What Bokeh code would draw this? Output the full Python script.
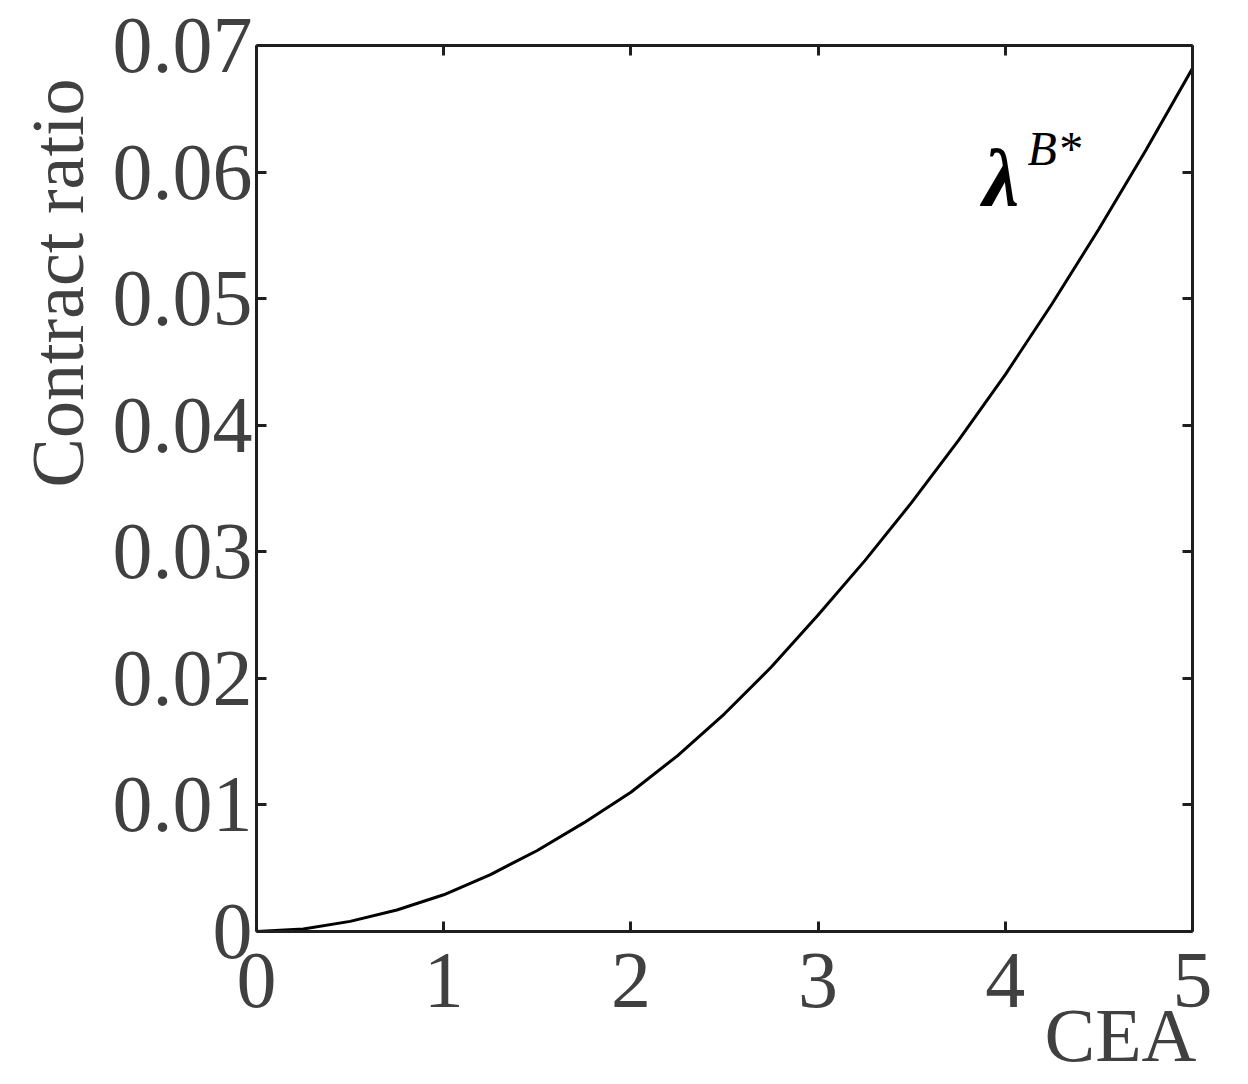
from bokeh.plotting import figure
from bokeh.models import Range1d, FixedTicker, LinearAxis, Label, Title
from bokeh.embed import file_html
from bokeh.resources import INLINE

# data
cea = [0.0, 0.25, 0.5, 0.75, 1.0, 1.25, 1.5, 1.75, 2.0, 2.25, 2.5, 2.75,
       3.0, 3.25, 3.5, 3.75, 4.0, 4.25, 4.5, 4.75, 5.0]
ratio = [0.0, 0.0002, 0.0008, 0.0017, 0.0029, 0.0045, 0.0064, 0.0086, 0.0110,
         0.0139, 0.0172, 0.0209, 0.0250, 0.0293, 0.0339, 0.0388, 0.0440,
         0.0496, 0.0555, 0.0617, 0.0682]
x_ticks = [0, 1, 2, 3, 4, 5]
y_ticks = [0, 0.01, 0.02, 0.03, 0.04, 0.05, 0.06, 0.07]
y_tick_labels = ["0", "0.01", "0.02", "0.03", "0.04", "0.05", "0.06", "0.07"]

FONT = "Liberation Serif"
GRAY = "#404040"
AX = "#1e1e1e"

p = figure(width=1248, height=1084, output_backend="svg", toolbar_location=None,
           x_range=Range1d(0, 5), y_range=Range1d(0, 0.07),
           x_axis_location=None, y_axis_location=None,
           min_border_left=256, min_border_right=56,
           min_border_top=45, min_border_bottom=153)
p.outline_line_color = None
p.xgrid.visible = False
p.ygrid.visible = False
p.background_fill_color = "white"
p.border_fill_color = "white"


def style(ax, show_labels, standoff=6):
    ax.axis_line_color = AX
    ax.axis_line_width = 3
    ax.major_tick_line_color = AX
    ax.major_tick_line_width = 3
    ax.major_tick_in = 10
    ax.major_tick_out = 0
    ax.minor_tick_line_color = None
    ax.major_label_text_font = FONT
    ax.major_label_text_color = GRAY
    ax.major_label_standoff = standoff
    if show_labels:
        ax.major_label_text_font_size = "80px"
    else:
        ax.major_label_text_font_size = "0px"
        ax.major_label_text_alpha = 0


xb = LinearAxis(ticker=FixedTicker(ticks=x_ticks))
style(xb, True, 22)
p.add_layout(xb, "below")
xt = LinearAxis(ticker=FixedTicker(ticks=x_ticks))
style(xt, False, 0)
p.add_layout(xt, "above")

yl = LinearAxis(ticker=FixedTicker(ticks=y_ticks),
                major_label_overrides=dict(zip(y_ticks, y_tick_labels)))
style(yl, True, 4)
p.add_layout(yl, "left")
yr = LinearAxis(ticker=FixedTicker(ticks=y_ticks))
style(yr, False, 0)
p.add_layout(yr, "right")

p.line(cea, ratio, line_color="black", line_width=3)

p.add_layout(Title(text="Contract ratio", align="right", offset=33, standoff=22,
                   text_font=FONT, text_font_size="74px", text_color=GRAY,
                   text_font_style="normal"), "left")
p.add_layout(Title(text="CEA", align="right", offset=-4, standoff=-34,
                   vertical_align="top",
                   text_font=FONT, text_font_size="76px", text_color=GRAY,
                   text_font_style="normal"), "below")

p.add_layout(Label(x=3.88, y=0.0595, text="λ",
                   text_font=FONT, text_font_size="82px", text_color="black",
                   text_font_style="bold italic",
                   text_align="left", text_baseline="alphabetic"))
p.add_layout(Label(x=4.119, y=0.0619, text="B*",
                   text_font=FONT, text_font_size="48px", text_color="black",
                   text_font_style="italic",
                   text_align="left", text_baseline="alphabetic"))

open("out.html", "w").write(file_html(p, INLINE))
